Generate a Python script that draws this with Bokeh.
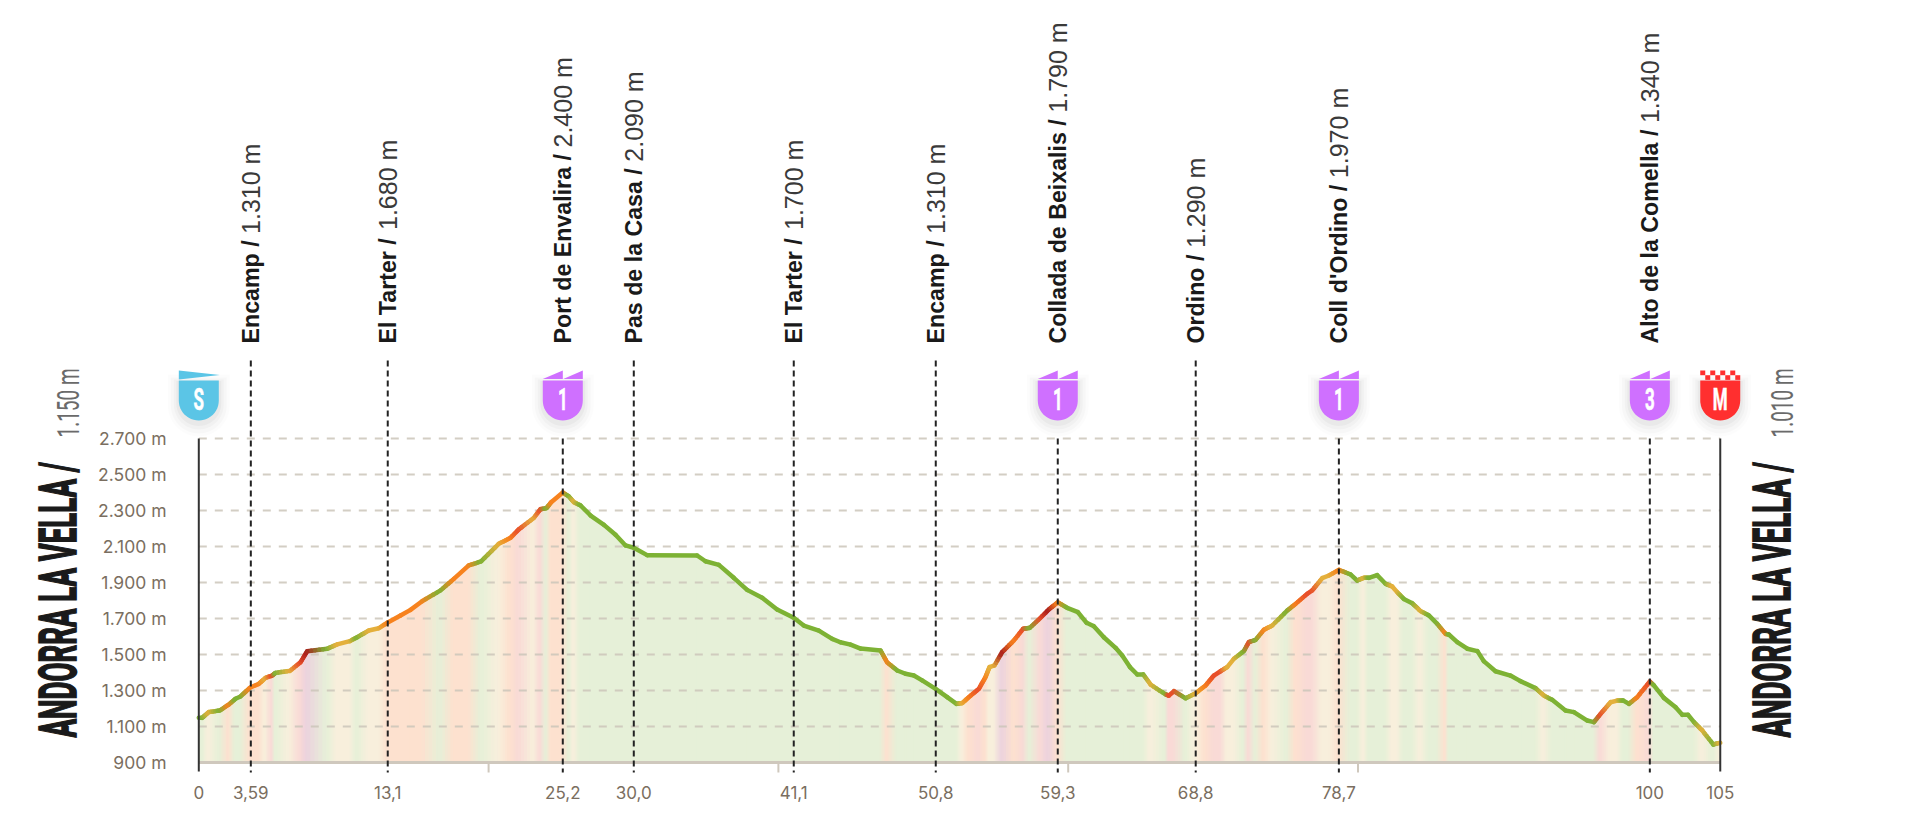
import math
import numpy as np
from bokeh.plotting import figure
from bokeh.models import Range1d, FixedTicker, Label, CustomJS
from bokeh.core.properties import value
from bokeh.embed import file_html
from bokeh.resources import INLINE
from bokeh.document import Document
from bokeh.events import DocumentReady

# ---------- data ----------
KM = [0,.23,.69,1.45,2.07,2.53,2.88,3.52,4.14,4.60,5.06,5.29,6.28,7.02,7.48,8.86,9.55,10.42,10.93,11.73,12.42,13.04,13.92,14.61,15.41,16.68,17.6,18.63,19.48,20.7,21.51,22.08,23.12,23.58,23.99,24.32,25.12,
      25.54,25.89,26.35,27.04,27.96,28.76,29.45,30.02,30.94,34.39,34.97,35.89,36.92,37.84,38.88,39.91,41.06,41.75,42.79,43.71,44.28,44.98,45.67,47.05,47.5,48.2,48.77,49.35,49.92,50.85,51.65,52.29,52.69,53.14,53.83,54.29,54.57,54.91,55.44,56.25,56.89,57.35,58.09,58.66,59.28,
      59.93,60.67,61.27,61.77,62.46,63.27,63.73,64.26,64.77,65.18,65.69,66.72,66.95,67.3,68.1,68.8,69.48,70.05,70.51,70.97,71.43,72.12,72.47,72.93,73.5,74.08,75.11,75.69,76.49,76.84,77.53,77.99,78.68,
      79.48,79.94,80.4,80.75,81.32,81.9,82.36,82.71,83.16,83.74,84.32,84.89,85.47,86.04,86.27,86.85,87.54,88.24,88.68,89.49,90.52,91.21,92.25,92.83,93.4,94.32,94.9,95.82,96.28,96.74,97.43,97.89,98.31,98.7,99.27,100.14,
      100.42,101.11,101.92,102.38,102.77,103.19,103.76,104.52,105]
ELEV = [1148,1148,1180,1189,1222,1254,1267,1315,1337,1370,1383,1398,1409,1457,1518,1532,1556,1574,1596,1633,1646,1678,1717,1748,1796,1856,1920,1995,2017,2115,2148,2195,2259,2307,2313,2346,2400,
        2378,2346,2328,2272,2220,2165,2106,2093,2052,2050,2018,1998,1926,1859,1815,1750,1704,1661,1633,1587,1568,1555,1533,1522,1457,1411,1393,1383,1356,1309,1263,1226,1230,1263,1309,1374,1430,1439,1513,1578,1643,1648,1704,1750,1790,
        1759,1735,1676,1657,1596,1537,1494,1430,1389,1389,1333,1278,1272,1296,1257,1285,1328,1383,1407,1430,1476,1519,1569,1581,1637,1661,1744,1781,1837,1856,1924,1939,1970,
        1945,1911,1926,1926,1941,1893,1878,1846,1809,1785,1741,1717,1670,1615,1611,1569,1532,1519,1463,1407,1383,1352,1313,1272,1248,1189,1180,1133,1124,1170,1235,1244,1244,1226,1263,1350,
        1328,1259,1207,1165,1165,1124,1078,1000,1010]
GRADE = list("GGYGOGGOOYRGYRDGYYGYYOOOOGOOGYORYRGOO"
             + "GYG" + "G" * 21 + "O" + "G" * 7 + "YOROYYDORGRDO"
             + "G" * 10 + "YGRRGYORRYYGRGOYGORRYYO"
             + "GGYGGGYYGGYGGOG" + "G" * 8 + "Y" + "G" * 5 + "RYYGGOR"
             + "G" * 6 + "YGY")
assert len(KM) == len(ELEV) == len(GRADE), (len(KM), len(ELEV), len(GRADE))

Y_TICKS = [900, 1100, 1300, 1500, 1700, 1900, 2100, 2300, 2500, 2700]
Y_LABELS = ["900 m", "1.100 m", "1.300 m", "1.500 m", "1.700 m", "1.900 m", "2.100 m", "2.300 m", "2.500 m", "2.700 m"]
X_TICKS = [0, 3.59, 13.04, 25.12, 30.02, 41.06, 50.86, 59.28, 68.8, 78.68, 100.14, 105]
X_LABELS = ["0", "3,59", "13,1", "25,2", "30,0", "41,1", "50,8", "59,3", "68,8", "78,7", "100", "105"]
MINOR_KM = [20, 40, 60, 80]

PLACE_KM = [3.59, 13.04, 25.12, 30.02, 41.06, 50.86, 59.28, 68.8, 78.68, 100.14]
PLACE_NAME = ["Encamp", "El Tarter", "Port de Envalira", "Pas de la Casa", "El Tarter", "Encamp",
              "Collada de Beixalis", "Ordino", "Coll d'Ordino", "Alto de la Comella"]
PLACE_ALT = ["1.310 m", "1.680 m", "2.400 m", "2.090 m", "1.700 m", "1.310 m", "1.790 m", "1.290 m", "1.970 m", "1.340 m"]

BADGE_KM = [0, 25.12, 59.28, 78.68, 100.14, 105]
BADGE_TEXT = ["S", "1", "1", "1", "3", "M"]
START_CITY = "ANDORRA LA VELLA /"
START_ALT, FINISH_ALT = "1.150 m", "1.010 m"

# ---------- styles ----------
LINE_RGB = {"G": (125, 178, 52), "Y": (228, 176, 60), "O": (247, 130, 30), "R": (232, 78, 42), "D": (168, 28, 28)}
FILL_RGB = {"G": (230, 240, 216), "Y": (248, 239, 220), "O": (253, 225, 207), "R": (249, 218, 214), "D": (236, 210, 222)}
BADGE_COL = {"S": "#5bc5e6", "1": "#cf70ff", "3": "#cf70ff", "M": "#ff2f2f"}
TICK_COL = "#7a6e60"
RULE_COL = "#cfc8bd"
INK = "#222222"

# screen geometry: the frame fills the whole figure
X0, PX_KM = 198.3, 14.49
Y0, PX_M = 762.0, 0.18
W, H = 1916, 815
def kx(px): return (px - X0) / PX_KM
def my(py): return 900 + (Y0 - py) / PX_M

p = figure(width=W, height=H, output_backend="svg", toolbar_location=None,
           x_range=Range1d(kx(0), kx(W)), y_range=Range1d(my(H), my(0)),
           min_border_left=0, min_border_right=0, min_border_top=0, min_border_bottom=0)
p.outline_line_color = None
p.background_fill_color = "white"
p.grid.visible = False

ya = p.yaxis[0]
ya.fixed_location = kx(172)
ya.ticker = FixedTicker(ticks=Y_TICKS)
ya.major_label_overrides = dict(zip(Y_TICKS, Y_LABELS))
ya.axis_line_color = None
ya.major_tick_line_color = None
ya.minor_tick_line_color = None
ya.major_label_standoff = 0
ya.major_label_text_color = TICK_COL
ya.major_label_text_font = "Inter"
ya.major_label_text_font_size = "17.5px"

xa = p.xaxis[0]
xa.fixed_location = my(775)
xa.ticker = FixedTicker(ticks=X_TICKS)
xa.major_label_overrides = dict(zip(X_TICKS, X_LABELS))
xa.axis_line_color = None
xa.major_tick_line_color = None
xa.minor_tick_line_color = None
xa.major_label_standoff = 4
xa.major_label_text_color = TICK_COL
xa.major_label_text_font = "Inter"
xa.major_label_text_font_size = "17px"

# ---------- profile: fill bands and line, colour blended along each stretch ----------
def mix(a, b, t):
    return tuple(int(round(a[i] + (b[i] - a[i]) * t)) for i in range(3))
def hexc(c):
    return "#%02x%02x%02x" % c

fx, fy, fc, lx, ly, lc = [], [], [], [], [], []
for i in range(len(KM) - 1):
    steps = 1 if GRADE[i] == GRADE[i + 1] else 5
    for s in range(steps):
        t0, t1 = s / steps, (s + 1) / steps
        a = KM[i] + (KM[i + 1] - KM[i]) * t0
        b = KM[i] + (KM[i + 1] - KM[i]) * t1
        ea = ELEV[i] + (ELEV[i + 1] - ELEV[i]) * t0
        eb = ELEV[i] + (ELEV[i + 1] - ELEV[i]) * t1
        tm = (t0 + t1) / 2
        fx.append([a, b, b, a]); fy.append([900, 900, eb, ea])
        fc.append(hexc(mix(FILL_RGB[GRADE[i]], FILL_RGB[GRADE[i + 1]], tm)))
        lx.append([a, b]); ly.append([ea, eb])
        lc.append(hexc(mix(LINE_RGB[GRADE[i]], LINE_RGB[GRADE[i + 1]], tm)))

p.patches(fx, fy, fill_color=fc, line_color=fc, line_width=1.6, level="underlay")

# horizontal dashed rules, over the fill
n = len(Y_TICKS) - 1
p.segment(x0=[0] * n, y0=Y_TICKS[1:], x1=[105] * n, y1=Y_TICKS[1:],
          line_color="#cbc5ba", line_width=2, line_dash="8 8", line_alpha=0.85)

# bottom rule and unlabelled ticks
p.segment(x0=[0], y0=[900], x1=[105], y1=[900], line_color=RULE_COL, line_width=3, level="annotation")
p.segment(x0=MINOR_KM, y0=[900] * 4, x1=MINOR_KM, y1=[my(772)] * 4, line_color=RULE_COL, line_width=2)

p.multi_line(lx, ly, line_color=lc, line_width=4.5, line_cap="round", line_join="round", level="annotation")

# side rules
p.segment(x0=[0, 105], y0=[2700, 2700], x1=[0, 105], y1=[my(771)] * 2, line_color="#333333", line_width=2, level="overlay")

# dashed place markers
top = [2700 if k in BADGE_KM else my(360) for k in PLACE_KM]
p.segment(x0=PLACE_KM, y0=top, x1=PLACE_KM, y1=[my(772)] * len(PLACE_KM),
          line_color=INK, line_width=2, line_dash="6 4", level="overlay")

# place labels: bold name and slash, then the altitude, reading upward
ARIAL_BOLD = {' ':.278,"'":.238,'/':.278,'A':.722,'B':.722,'C':.722,'E':.667,'O':.778,'P':.667,'T':.611,'a':.556,'b':.611,'c':.556,
              'd':.611,'e':.556,'i':.278,'l':.278,'m':.889,'n':.611,'o':.611,'p':.611,'r':.389,'s':.556,'t':.333,'v':.556,'x':.556}
NAME_PX, ALT_PX = 23.2, 25
head = [n_ + " /" for n_ in PLACE_NAME]
head_len = [sum(ARIAL_BOLD[c] for c in h + " ") * NAME_PX for h in head]
base = [my(343)] * len(PLACE_KM)
p.text(x=PLACE_KM, y=base, text=head, angle=math.pi / 2, text_align="left", text_baseline="alphabetic",
       x_offset=0, text_font=value("Liberation Sans"), text_font_style="bold", text_font_size=f"{NAME_PX}px", text_color="#1a1a1a")
p.text(x=PLACE_KM, y=base, text=PLACE_ALT, angle=math.pi / 2, text_align="left",
       text_baseline="alphabetic", x_offset=0, y_offset=[-w for w in head_len],
       text_font=value("Liberation Sans"), text_font_size=f"{ALT_PX}px", text_color="#3a3a3a")

# ---------- badges ----------
R = 20
def body(cx, grow=0.0, drop=0.0):
    xs, ys = [cx - (R + grow) / PX_KM, cx + (R + grow) / PX_KM], [my(380 - grow + drop)] * 2
    for a in np.linspace(0, math.pi, 25):
        xs.append(cx + (R + grow) * math.cos(a) / PX_KM)
        ys.append(my(400 + drop + (R + grow) * math.sin(a)))
    return xs, ys

for grow, drop, alpha in [(11, 5, .012), (8, 5, .018), (5, 4, .025), (2.5, 3, .03)]:
    sh = [body(k, grow, drop) for k in BADGE_KM]
    p.patches([s[0] for s in sh], [s[1] for s in sh], fill_color="#000000", fill_alpha=alpha, line_color=None)
bb = [body(k) for k in BADGE_KM]
p.patches([b[0] for b in bb], [b[1] for b in bb], fill_color=[BADGE_COL[t] for t in BADGE_TEXT], line_color=None)

for k, t in zip(BADGE_KM, BADGE_TEXT):
    col = BADGE_COL[t]
    if t == "S":
        p.patch([k - 20 / PX_KM, k + 21 / PX_KM, k - 20 / PX_KM], [my(370), my(374.5), my(379)], fill_color=col, line_color=None)
    elif t == "M":
        l, r, b, u = [], [], [], []
        for c in range(8):
            row = c % 2
            l.append(k + (-20 + c * 5) / PX_KM); r.append(k + (-20 + (c + 1) * 5) / PX_KM)
            u.append(my(370 + row * 4.7)); b.append(my(374.7 + row * 4.7))
        p.quad(left=l, right=r, top=u, bottom=b, fill_color=col, line_color=None)
    else:
        for a, c in [(-20, 0), (0.5, 20)]:
            p.patch([k + a / PX_KM, k + c / PX_KM, k + c / PX_KM],
                    [my(378.5), my(370), my(378.5)], fill_color=col, line_color=None)
p.text(x=BADGE_KM, y=[my(398)] * len(BADGE_KM), text=BADGE_TEXT, text_align="center", text_baseline="middle",
       text_color="white", text_font=value("Roboto"), text_font_style="bold", text_font_size="17px")

# ---------- start / finish titles ----------
for px, apx, alt in [(66, 72, START_ALT), (1780, 1786, FINISH_ALT)]:
    p.add_layout(Label(x=kx(px), y=my(737), text=START_CITY, angle=math.pi / 2, text_align="left",
                       text_baseline="alphabetic", text_font="Roboto", text_font_style="bold",
                       text_font_size="27.6px", text_color="#1a1a1a"))
    p.add_layout(Label(x=kx(apx), y=my(437), text=alt, angle=math.pi / 2, text_align="left",
                       text_baseline="alphabetic", text_font="Roboto",
                       text_font_size="19px", text_color="#6a6a6a"))

# the condensed display face of the original is not installed: stretch these texts in height,
# keeping the baseline of the rotated titles and the centre of the badge marks where they are
stretch = CustomJS(args=dict(city=START_CITY, alts=[START_ALT, FINISH_ALT], marks=BADGE_TEXT), code="""
function walk(root, out) {
  for (const el of root.querySelectorAll('*')) {
    if (el.tagName === 'text') out.push(el);
    if (el.shadowRoot) walk(el.shadowRoot, out);
  }
}
const DESC = 0.208;
function run() {
  const out = []; walk(document, out);
  for (const t of out) {
    if (t.dataset.done) continue;
    const s = t.textContent;
    let k = 0, w = 0;
    const mark = marks.includes(s);
    if (s === city) { k = 1.85; w = 0.9; }
    else if (alts.includes(s)) { k = 1.63; }
    else if (mark) { k = 1.9; w = 0.3; }
    if (!k) continue;
    const old = t.getAttribute('transform') || '';
    const r0 = t.getBoundingClientRect();
    t.setAttribute('transform', old + ' scale(1,' + k + ')');
    const r1 = t.getBoundingClientRect();
    let d;
    if (mark) d = (r0.top + r0.bottom) / 2 - (r1.top + r1.bottom) / 2;
    else d = (r0.right - DESC * r0.width) - (r1.right - DESC * r1.width);
    t.setAttribute('transform', old + ' translate(0,' + d + ') scale(1,' + k + ')');
    if (w) { t.setAttribute('stroke', t.getAttribute('fill') || '#000'); t.setAttribute('stroke-width', w); }
    t.dataset.done = '1';
  }
}
let n = 0;
const id = setInterval(() => { run(); if (++n > 40) clearInterval(id); }, 100);
""")
doc = Document()
doc.add_root(p)
doc.js_on_event(DocumentReady, stretch)

open("out.html", "w").write(file_html(p, INLINE))
